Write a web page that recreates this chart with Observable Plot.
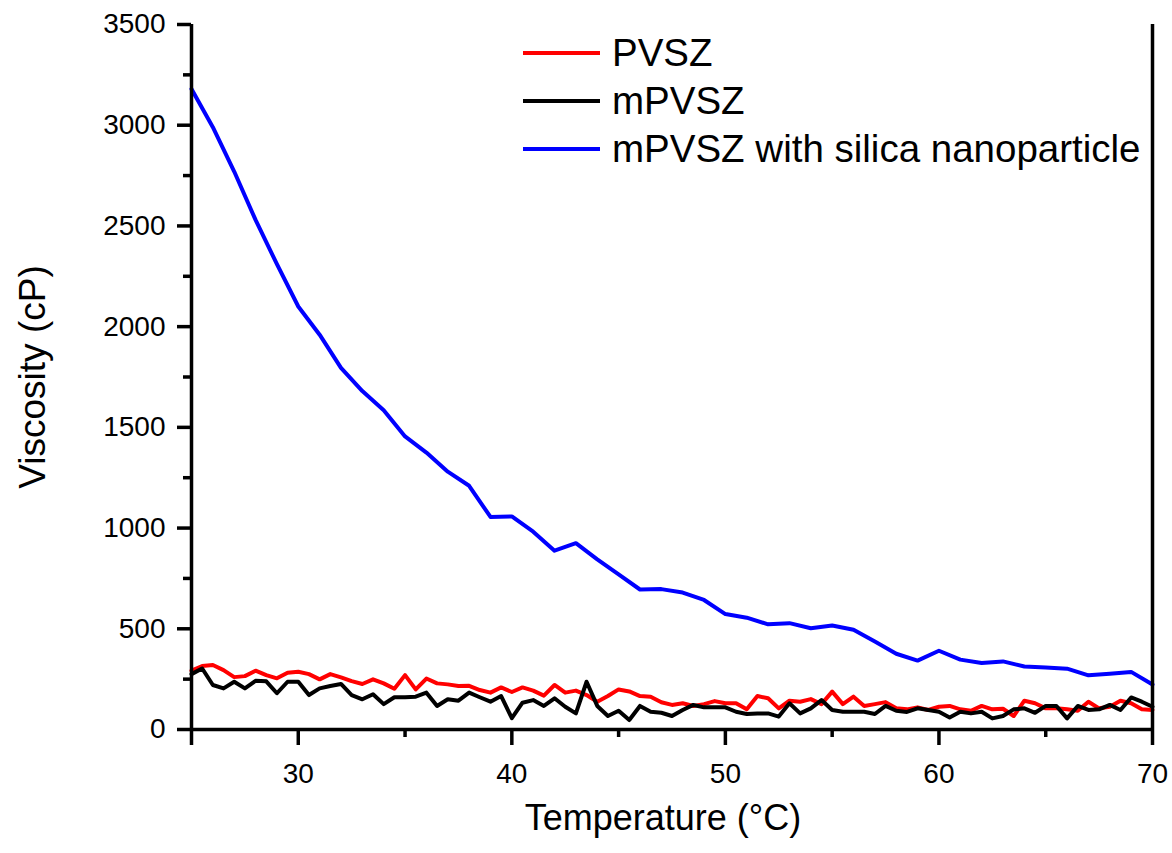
<!DOCTYPE html>
<html>
<head>
<meta charset="utf-8">
<script src="https://cdn.jsdelivr.net/npm/d3@7"></script>
<script src="https://cdn.jsdelivr.net/npm/@observablehq/plot@0.6"></script>
<style>
html, body { margin: 0; padding: 0; background: #fff; }
#wrap { position: relative; width: 1172px; height: 853px; }
#legend { position: absolute; left: 523px; top: 29px; font-family: "Liberation Sans", Arial, sans-serif; font-size: 38.5px; color: #000; }
.item { display: flex; align-items: center; height: 48px; white-space: nowrap; }
.item svg { margin-right: 12px; }
</style>
</head>
<body>
<div id="wrap"><div id="legend"></div></div>
<script>
// Temperatures (°C)
const tempsBlue = [25,26,27,28,29,30,31,32,33,34,35,36,37,38,39,40,41,42,43,44,45,46,47,48,49,50,51,52,53,54,55,56,57,58,59,60,61,62,63,64,65,66,67,68,69,70];
const tempsHalf = [25,25.5,26,26.5,27,27.5,28,28.5,29,29.5,30,30.5,31,31.5,32,32.5,33,33.5,34,34.5,35,35.5,
  36,36.5,37,37.5,38,38.5,39,39.5,40,40.5,41,41.5,42,42.5,43,43.5,44,44.5,45,45.5,46,46.5,
  47,47.5,48,48.5,49,49.5,50,50.5,51,51.5,52,52.5,53,53.5,54,54.5,55,55.5,56,56.5,57,57.5,
  58,58.5,59,59.5,60,60.5,61,61.5,62,62.5,63,63.5,64,64.5,65,65.5,66,66.5,67,67.5,68,68.5,69,69.5,70];

// Viscosity (cP)
const pvsz = [292,315,320,295,260,265,292,270,254,282,287,275,249,275,259,240,226,249,229,202,270,199,
  253,229,224,216,217,196,183,209,186,209,193,168,221,183,193,171,138,166,199,189,166,163,
  135,122,130,117,126,141,130,130,100,166,155,105,143,138,151,126,188,126,163,117,126,136,
  105,100,110,97,113,117,100,93,117,100,103,67,143,130,105,105,100,93,138,105,113,143,130,100,97];
const mpvsz = [275,303,221,204,237,204,242,239,180,237,237,171,204,216,226,171,150,175,126,160,160,163,
  183,117,150,143,183,160,138,166,56,133,146,117,155,113,80,237,117,67,93,47,117,88,
  83,67,97,122,110,110,110,88,77,80,80,64,130,80,105,146,97,88,88,88,77,117,
  93,87,105,97,88,60,88,80,88,55,67,100,105,83,117,117,55,117,97,100,122,97,159,138,113];
const mpvszSilica = [3180,2990,2770,2530,2310,2100,1960,1795,1680,1585,1455,1375,1280,1210,1055,1058,982,888,925,845,
  770,695,697,680,643,573,555,522,528,503,516,495,437,376,342,391,347,330,338,313,308,302,269,277,286,223];

const seriesNames = ["PVSZ", "mPVSZ", "mPVSZ with silica nanoparticle"];
const seriesColors = ["#ff0000", "#000000", "#0000ff"];

const yMajor = [0,500,1000,1500,2000,2500,3000,3500];
const yMinor = [250,750,1250,1750,2250,2750,3250];
const xMajor = [25,30,40,50,60,70];
const xMinor = [35,45,55,65];

const rowsRed = tempsHalf.map((t, i) => ({t, v: pvsz[i]}));
const rowsBlack = tempsHalf.map((t, i) => ({t, v: mpvsz[i]}));
const rowsBlue = tempsBlue.map((t, i) => ({t, v: mpvszSilica[i]}));

const font = '"Liberation Sans", Arial, sans-serif';
const W = 1172, H = 853, mL = 191, mR = 20, mT = 24, mB = 124;
const frameW = W - mL - mR, frameH = H - mT - mB;

const chart = Plot.plot({
  width: W,
  height: H,
  marginLeft: mL,
  marginRight: mR,
  marginTop: mT,
  marginBottom: mB,
  x: {domain: [25, 70], label: null},
  y: {domain: [0, 3500], label: null},
  style: {fontFamily: font, background: "#fff", color: "#000", overflow: "visible"},
  marks: [
    // tick labels
    Plot.axisY({ticks: yMajor, tickSize: 0, tickPadding: 26, fontSize: 28, label: null, tickFormat: d => String(d)}),
    Plot.axisX({ticks: xMajor, tickSize: 0, tickPadding: 34, fontSize: 28, label: null, tickFormat: d => d === 25 ? "" : String(d)}),
    // tick marks (outward)
    Plot.ruleY(yMajor, {y: d => d, insetRight: frameW, insetLeft: -14, strokeWidth: 3.5}),
    Plot.ruleY(yMinor, {y: d => d, insetRight: frameW, insetLeft: -8, strokeWidth: 3.5}),
    Plot.ruleX(xMajor, {x: d => d, insetTop: frameH, insetBottom: -16, strokeWidth: 3.5}),
    Plot.ruleX(xMinor, {x: d => d, insetTop: frameH, insetBottom: -8, strokeWidth: 3.5}),
    // data
    Plot.line(rowsRed, {x: "t", y: "v", stroke: seriesColors[0], strokeWidth: 4}),
    Plot.line(rowsBlack, {x: "t", y: "v", stroke: seriesColors[1], strokeWidth: 4}),
    Plot.line(rowsBlue, {x: "t", y: "v", stroke: seriesColors[2], strokeWidth: 4}),
    // frame lines
    Plot.ruleX([25, 70], {strokeWidth: 3.5}),
    Plot.ruleY([0], {strokeWidth: 3.5}),
    // axis titles
    Plot.text(["Viscosity (cP)"], {frameAnchor: "left", textAnchor: "middle", dx: -158, rotate: -90, fontSize: 37}),
    Plot.text(["Temperature (°C)"], {frameAnchor: "bottom", textAnchor: "middle", dx: -9, dy: 100, fontSize: 36})
  ]
});

const wrap = document.getElementById("wrap");
wrap.insertBefore(chart, wrap.firstChild);

const legend = document.getElementById("legend");
seriesNames.forEach((name, i) => {
  const item = document.createElement("div");
  item.className = "item";
  item.innerHTML = `<svg width="77" height="6"><line x1="0" x2="77" y1="3" y2="3" stroke="${seriesColors[i]}" stroke-width="4"/></svg><span>${name}</span>`;
  legend.appendChild(item);
});
</script>
</body>
</html>
